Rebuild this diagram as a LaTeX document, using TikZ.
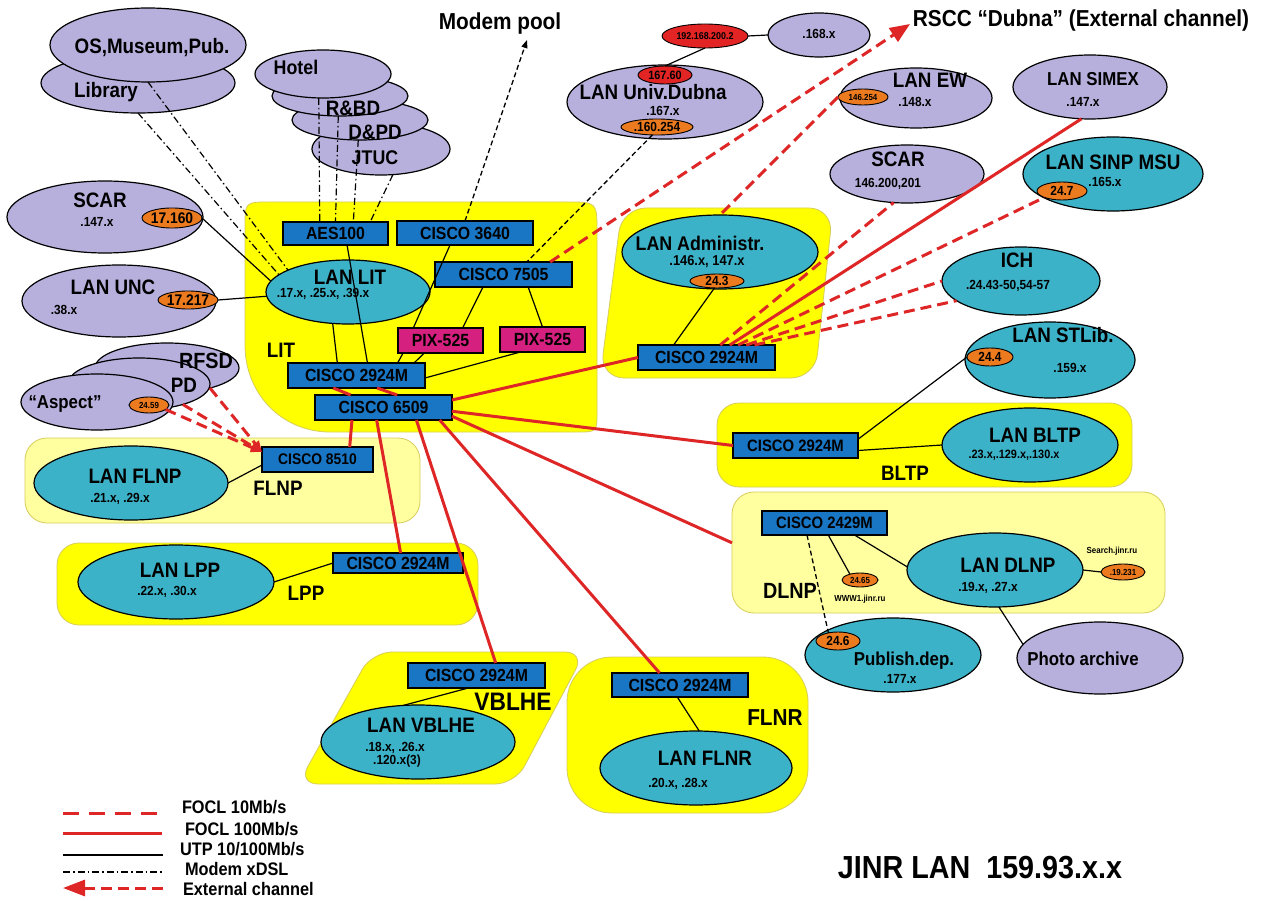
\documentclass[tikz,border=0pt]{standalone}
\usepackage{fontspec}
\setmainfont{Liberation Sans}[FakeStretch=0.9]
\usetikzlibrary{shapes.geometric,arrows.meta,calc}
\definecolor{lav}{RGB}{183,176,220}
\definecolor{tealc}{RGB}{60,178,200}
\definecolor{boxblue}{RGB}{25,118,196}
\definecolor{pixmag}{RGB}{214,32,128}
\definecolor{orng}{RGB}{236,122,30}
\definecolor{redfill}{RGB}{226,36,36}
\definecolor{linered}{RGB}{222,38,38}
\definecolor{yelB}{RGB}{255,255,0}
\definecolor{yelP}{RGB}{255,255,160}
\definecolor{yelEdge}{RGB}{215,205,90}
\newcommand{\fsz}[1]{\fontsize{\fpeval{#1*1.1}}{\fpeval{#1*1.1}}\selectfont\bfseries}
\begin{document}
\begin{tikzpicture}[x=1pt,y=-1pt,
  every node/.style={inner sep=0pt,outer sep=0pt},
  ell/.style={ellipse,draw=black,line width=1.2pt},
  lavE/.style={ell,fill=lav},
  tealE/.style={ell,fill=tealc},
  orE/.style={ell,fill=orng,line width=0.9pt},
  redE/.style={ell,fill=redfill,line width=0.9pt},
  box/.style={rectangle,draw=black,line width=1.2pt,fill=boxblue,font=\fsz{16}},
  pix/.style={box,fill=pixmag},
  region/.style={rectangle,rounded corners=22pt,draw=yelEdge,line width=0.8pt},
  t/.style={anchor=base},
  lg/.style={anchor=base west,font=\fsz{16.5}},
  utp/.style={draw=black,line width=1.2pt},
  f100/.style={draw=linered,line width=3pt},
  f10/.style={draw=linered,line width=3pt,dash pattern=on 11pt off 6pt},
  legdash/.style={draw=linered,line width=3pt,dash pattern=on 16pt off 10pt},
  mdsl/.style={draw=black,line width=1.2pt,dash pattern=on 7pt off 3pt on 1.5pt off 3pt},
  bdash/.style={draw=black,line width=1.3pt,dash pattern=on 5pt off 3pt}]
\useasboundingbox[fill=white] (0,0) rectangle (1272,901);

% ---------- yellow regions ----------
\path[fill=yelB,draw=yelEdge,line width=0.8pt] (270,202) -- (567,202) .. controls (597,202) .. (597,232) -- (597,412) .. controls (597,432) .. (577,432) -- (330,432) .. controls (283,432) and (245,395) .. (245,345) -- (245,227) .. controls (245,202) .. (270,202) -- cycle;
\path[fill=yelB,draw=yelEdge,line width=0.8pt,rounded corners=24pt] (622,208) -- (833,208) -- (815,378) -- (600,378) -- cycle;
\path[fill=yelB,draw=yelEdge,line width=0.8pt,rounded corners=20pt] (372,652) -- (585,652) -- (515,784) -- (298,784) -- cycle;
\path[fill=yelB,draw=yelEdge,line width=0.8pt,rounded corners=45pt] (567,657) rectangle (808,813);
\node[region,fill=yelP,minimum width=395pt,minimum height=85pt] (flnpR) at (222.5,480.5) {};
\node[region,fill=yelB,minimum width=421pt,minimum height=82pt] (lppR) at (267.5,584) {};
\node[region,fill=yelB,minimum width=415pt,minimum height=84pt] (bltpR) at (924.5,445) {};
\node[region,fill=yelP,minimum width=433pt,minimum height=121pt] (dlnpR) at (948.5,552.5) {};

% ---------- ellipses ----------
\node[lavE,minimum width=194pt,minimum height=60pt] (lib) at (138,83) {};
\node[lavE,minimum width=196pt,minimum height=74pt] (os) at (148,45) {};
\node[lavE,minimum width=138pt,minimum height=52pt] (jtuc) at (381,149) {};
\node[lavE,minimum width=136pt,minimum height=40pt] (dpd) at (360,120) {};
\node[lavE,minimum width=136pt,minimum height=40pt] (rbd) at (340,96) {};
\node[lavE,minimum width=136pt,minimum height=48pt] (hotel) at (323,74) {};
\node[lavE,minimum width=196pt,minimum height=72pt] (scarL) at (105,217) {};
\node[lavE,minimum width=194pt,minimum height=72pt] (unc) at (119,301) {};
\node[lavE,minimum width=144pt,minimum height=50pt] (rfsd) at (167,368) {};
\node[lavE,minimum width=142pt,minimum height=52pt] (pd) at (139,384) {};
\node[lavE,minimum width=152pt,minimum height=56pt] (aspect) at (97,402) {};
\node[lavE,minimum width=196pt,minimum height=74pt] (univ) at (665,102) {};
\node[lavE,minimum width=102pt,minimum height=44pt] (d168) at (819,35) {};
\node[lavE,minimum width=152pt,minimum height=60pt] (ew) at (916,98) {};
\node[lavE,minimum width=154pt,minimum height=64pt] (simex) at (1090,87) {};
\node[lavE,minimum width=154pt,minimum height=58pt] (scarR) at (907,174) {};
\node[lavE,minimum width=166pt,minimum height=72pt] (photo) at (1100,658) {};
\node[tealE,minimum width=164pt,minimum height=64pt] (lit) at (348,292) {};
\node[tealE,minimum width=180pt,minimum height=74pt] (sinp) at (1113,174) {};
\node[tealE,minimum width=158pt,minimum height=68pt] (ich) at (1021,281) {};
\node[tealE,minimum width=196pt,minimum height=74pt] (admin) at (720,252) {};
\node[tealE,minimum width=170pt,minimum height=76pt] (stlib) at (1050,360) {};
\node[tealE,minimum width=176pt,minimum height=74pt] (bltp) at (1030,445) {};
\node[tealE,minimum width=176pt,minimum height=74pt] (dlnp) at (995,570) {};
\node[tealE,minimum width=176pt,minimum height=74pt] (publ) at (893,655) {};
\node[tealE,minimum width=194pt,minimum height=74pt] (flnp) at (131,483) {};
\node[tealE,minimum width=196pt,minimum height=74pt] (lpp) at (176,582) {};
\node[tealE,minimum width=194pt,minimum height=74pt] (vbl) at (418,742) {};
\node[tealE,minimum width=192pt,minimum height=74pt] (flnr) at (696,768) {};

% small address ellipses
\node[orE,minimum width=58pt,minimum height=20pt,font=\fsz{14}] (sc17) at (172,218) {17.160};
\node[orE,minimum width=58pt,minimum height=18pt,font=\fsz{14}] (unc17) at (188,300) {17.217};
\node[orE,minimum width=40pt,minimum height=16pt,font=\fsz{8}] (a2459) at (149,405) {24.59};
\node[redE,minimum width=54pt,minimum height=18pt,font=\fsz{11}] (u167) at (665,75) {167.60};
\node[orE,minimum width=72pt,minimum height=16pt,font=\fsz{12}] (u160) at (657,127) {.160.254};
\node[redE,minimum width=86pt,minimum height=24pt,font=\fsz{9}] (r192) at (705,36) {192.168.200.2};
\node[orE,minimum width=50pt,minimum height=16pt,font=\fsz{8}] (ew146) at (863,97) {146.254};
\node[orE,minimum width=50pt,minimum height=18pt,font=\fsz{12}] (s247) at (1062,191) {24.7};
\node[orE,minimum width=54pt,minimum height=14pt,font=\fsz{12}] (a243) at (717,281) {24.3};
\node[orE,minimum width=46pt,minimum height=18pt,font=\fsz{12}] (st244) at (990,357) {24.4};
\node[orE,minimum width=36pt,minimum height=14pt,font=\fsz{8}] (w2465) at (860,580) {24.65};
\node[orE,minimum width=44pt,minimum height=16pt,font=\fsz{8}] (s19) at (1123,572) {.19.231};
\node[orE,minimum width=44pt,minimum height=18pt,font=\fsz{12}] (p246) at (838,641) {24.6};

% ---------- boxes ----------
\node[box,minimum width=105pt,minimum height=23pt] (aes) at (335.5,233.5) {AES100};
\node[box,minimum width=136pt,minimum height=24pt] (c3640) at (465,233) {CISCO 3640};
\node[box,minimum width=137pt,minimum height=25pt] (c7505) at (503.5,274.5) {CISCO 7505};
\node[pix,minimum width=85pt,minimum height=25pt] (pixL) at (440.5,340.5) {PIX-525};
\node[pix,minimum width=85pt,minimum height=25pt] (pixR) at (542.5,339.5) {PIX-525};
\node[box,minimum width=137pt,minimum height=25pt] (c2924lit) at (356.5,375.5) {CISCO 2924M};
\node[box,minimum width=137pt,minimum height=25pt] (c6509) at (383.5,407.5) {CISCO 6509};
\node[box,minimum width=137pt,minimum height=25pt] (cadm) at (706.5,357.5) {CISCO 2924M};
\node[box,minimum width=111pt,minimum height=25pt,font=\fsz{14}] (c8510) at (317.5,459.5) {CISCO 8510};
\node[box,minimum width=130pt,minimum height=20pt] (clpp) at (398,563) {CISCO 2924M};
\node[box,minimum width=125pt,minimum height=25pt,font=\fsz{15}] (cbltp) at (795.5,445.5) {CISCO 2924M};
\node[box,minimum width=125pt,minimum height=24pt,font=\fsz{15}] (c2429) at (824.5,523) {CISCO 2429M};
\node[box,minimum width=137pt,minimum height=25pt] (cvbl) at (476.5,675.5) {CISCO 2924M};
\node[box,minimum width=136pt,minimum height=24pt] (cflnr) at (680,685) {CISCO 2924M};

% ---------- top labels ----------
\node[t,font=\fsz{21}] (modem) at (500,30) {Modem pool};
\node[t,font=\fsz{21}] (rscc) at (1081,27) {RSCC “Dubna” (External channel)};
\coordinate (mpTip) at (527,40);
\coordinate (rsccTip) at (910,24);

% ---------- connectors ----------
% modem xDSL
\draw[mdsl] (os.south) -- (lit.160);
\draw[mdsl] (lib.south) -- (lit.166);
\draw[mdsl] (hotel.-100) -- ($(aes.north west)!0.35!(aes.north east)$);
\draw[mdsl] (rbd.-95) -- ($(aes.north west)!0.5!(aes.north east)$);
\draw[mdsl] (dpd.-95) -- ($(aes.north west)!0.67!(aes.north east)$);
\draw[mdsl] (jtuc.-65) -- ($(aes.north west)!0.83!(aes.north east)$);
% UTP to LAN LIT
\draw[utp] (sc17.east) -- (lit.172);
\draw[utp] (unc17.east) -- (lit.183);
% LIT internal
\draw[utp] (lit.-116) -- ($(c2924lit.north west)!0.36!(c2924lit.north east)$);
\draw[utp] ($(aes.south west)!0.61!(aes.south east)$) -- ($(c2924lit.north west)!0.58!(c2924lit.north east)$);
\draw[utp] ($(c3640.south west)!0.39!(c3640.south east)$) -- ($(pixL.north west)!0.18!(pixL.north east)$);
\draw[utp] ($(pixL.south west)!0.06!(pixL.south east)$) -- ($(c2924lit.north west)!0.8!(c2924lit.north east)$);
\draw[utp] ($(pixL.south west)!0.31!(pixL.south east)$) -- ($(c2924lit.north west)!0.92!(c2924lit.north east)$);
\draw[utp] ($(c7505.south west)!0.35!(c7505.south east)$) -- ($(pixL.north west)!0.76!(pixL.north east)$);
\draw[utp] ($(c7505.south west)!0.68!(c7505.south east)$) -- ($(pixR.north west)!0.5!(pixR.north east)$);
\draw[utp] ($(pixR.south west)!0.24!(pixR.south east)$) -- ($(c2924lit.north east)!0.6!(c2924lit.south east)$);
\draw[f100] ($(c2924lit.south west)!0.33!(c2924lit.south east)$) -- ($(c6509.north west)!0.26!(c6509.north east)$);
\draw[f100] ($(c2924lit.south west)!0.65!(c2924lit.south east)$) -- ($(c6509.north west)!0.6!(c6509.north east)$);
% modem pool, univ
\draw[bdash,-{Triangle[length=8pt,width=6pt]}] (c3640.north) -- (mpTip);
\draw[bdash] (u160.-120) -- ($(c7505.north west)!0.67!(c7505.north east)$);
\draw[utp] (u167.north) -- (r192.south);
\draw[utp] (r192.east) -- (d168.west);
% external channel
\draw[f10,-{Triangle[length=20pt,width=16pt]}] ($(c7505.north west)!0.84!(c7505.north east)$) -- (rsccTip);
\draw[f10] (ew146.west) -- (admin.north);
% administration
\draw[utp] (a243.-110) -- ($(cadm.north west)!0.26!(cadm.north east)$);
\draw[f100] ($(c6509.north east)!0.2!(c6509.south east)$) -- (cadm.west);
\draw[f10] ($(cadm.north west)!0.6!(cadm.north east)$) -- (scarR.-115);
\draw[f100] ($(cadm.north west)!0.67!(cadm.north east)$) -- (simex.-105);
\draw[f10] ($(cadm.north west)!0.73!(cadm.north east)$) -- (s247.200);
\draw[f10] ($(cadm.north west)!0.79!(cadm.north east)$) -- (ich.west);
\draw[f10] ($(cadm.north west)!0.85!(cadm.north east)$) -- (ich.197);
% BLTP
\draw[f100] ($(c6509.north east)!0.65!(c6509.south east)$) -- (cbltp.west);
\draw[utp] ($(cbltp.north east)!0.7!(cbltp.south east)$) -- (bltp.west);
\draw[utp] ($(cbltp.north east)!0.25!(cbltp.south east)$) -- (st244.west);
% DLNP
\draw[f100] ($(c6509.north east)!0.85!(c6509.south east)$) -- ($(dlnpR.north west)!0.42!(dlnpR.south west)$);
\draw[utp] ($(c2429.south west)!0.74!(c2429.south east)$) -- (dlnp.178);
\draw[utp] ($(c2429.south west)!0.53!(c2429.south east)$) -- (w2465.150);
\draw[bdash] ($(c2429.south west)!0.36!(c2429.south east)$) -- (p246.140);
\draw[utp] (dlnp.east) -- (s19.west);
\draw[utp] (dlnp.-84) -- (photo.170);
% LPP, FLNP
\draw[f100] ($(c6509.south west)!0.45!(c6509.south east)$) -- ($(clpp.north west)!0.52!(clpp.north east)$);
\draw[utp] (clpp.west) -- (lpp.east);
\draw[f100] ($(c6509.south west)!0.27!(c6509.south east)$) -- ($(c8510.north west)!0.79!(c8510.north east)$);
\draw[utp] ($(c8510.north west)!0.72!(c8510.south west)$) -- (flnp.east);
\draw[f10,-{Triangle[length=11pt,width=9pt]}] (a2459.-15) -- ($(c8510.north west)!0.2!(c8510.south west)$);
\draw[f10,-{Triangle[length=11pt,width=9pt]}] (pd.-25) -- ($(c8510.north west)!0.2!(c8510.south west)$);
\draw[f10,-{Triangle[length=11pt,width=9pt]}] (rfsd.-25) -- ($(c8510.north west)!0.2!(c8510.south west)$);
% VBLHE, FLNR
\draw[f100] ($(c6509.south west)!0.74!(c6509.south east)$) -- ($(cvbl.north west)!0.64!(cvbl.north east)$);
\draw[utp] ($(cvbl.south west)!0.44!(cvbl.south east)$) -- (vbl.112);
\draw[f100] ($(c6509.south west)!0.91!(c6509.south east)$) -- ($(cflnr.north west)!0.35!(cflnr.north east)$);
\draw[utp] ($(cflnr.south west)!0.48!(cflnr.south east)$) -- (flnr.85);

% ---------- text labels ----------
\node[t,font=\fsz{19}] (tos) at (152,54) {OS,Museum,Pub.};
\node[t,font=\fsz{19}] (tlib) at (106,98) {Library};
\node[t,font=\fsz{18}] (thotel) at (296,75) {Hotel};
\node[t,font=\fsz{19}] (trbd) at (353,116) {R\&BD};
\node[t,font=\fsz{19}] (tdpd) at (375,140) {D\&PD};
\node[t,font=\fsz{18}] (tjtuc) at (375,165) {JTUC};
\node[t,font=\fsz{12}] (t168) at (819,39) {.168.x};
\node[t,font=\fsz{19}] (tuniv) at (653,100) {LAN Univ.Dubna};
\node[t,font=\fsz{12}] (t167) at (663,116) {.167.x};
\node[t,font=\fsz{19}] (tew) at (930,88) {LAN EW};
\node[t,font=\fsz{12}] (t148) at (915,107) {.148.x};
\node[t,font=\fsz{17}] (tsimex) at (1093,86) {LAN SIMEX};
\node[t,font=\fsz{12}] (t147s) at (1083,107) {.147.x};
\node[t,font=\fsz{19}] (tscarR) at (898,167) {SCAR};
\node[t,font=\fsz{12}] (t146) at (888,188) {146.200,201};
\node[t,font=\fsz{19}] (tsinp) at (1113,170) {LAN SINP MSU};
\node[t,font=\fsz{12}] (t165) at (1105,187) {.165.x};
\node[t,font=\fsz{19}] (tich) at (1017,268) {ICH};
\node[t,font=\fsz{12}] (tich2) at (1008,290) {.24.43-50,54-57};
\node[t,font=\fsz{18}] (tadmin) at (700,251) {LAN Administr.};
\node[t,font=\fsz{13}] (tadmin2) at (707,266) {.146.x, 147.x};
\node[t,font=\fsz{19}] (tscarL) at (100,208) {SCAR};
\node[t,font=\fsz{12}] (t147L) at (97,227) {.147.x};
\node[t,font=\fsz{19}] (tunc) at (113,295) {LAN UNC};
\node[t,font=\fsz{12}] (t38) at (64,315) {.38.x};
\node[t,font=\fsz{20}] (trfsd) at (206,368) {RFSD};
\node[t,font=\fsz{19}] (tpd) at (184,392) {PD};
\node[t,font=\fsz{17}] (taspect) at (65,408) {“Aspect”};
\node[t,font=\fsz{19}] (tlit) at (350,285) {LAN LIT};
\node[t,font=\fsz{12}] (tlit2) at (323,298) {.17.x, .25.x, .39.x};
\node[t,font=\fsz{19}] (tlitR) at (281,358) {LIT};
\node[t,font=\fsz{19}] (tflnp) at (135,483) {LAN FLNP};
\node[t,font=\fsz{12}] (tflnp2) at (120,502) {.21.x, .29.x};
\node[t,font=\fsz{19}] (tflnpR) at (278,495) {FLNP};
\node[t,font=\fsz{19}] (tlpp) at (180,577) {LAN LPP};
\node[t,font=\fsz{12}] (tlpp2) at (167,595) {.22.x, .30.x};
\node[t,font=\fsz{19}] (tlppR) at (306,600) {LPP};
\node[t,font=\fsz{19}] (tbltp) at (1035,442) {LAN BLTP};
\node[t,font=\fsz{11}] (tbltp2) at (1014,458) {.23.x,.129.x,.130.x};
\node[t,font=\fsz{19}] (tbltpR) at (905,480) {BLTP};
\node[t,font=\fsz{19}] (tstlib) at (1063,343) {LAN STLib.};
\node[t,font=\fsz{12}] (t159) at (1070,373) {.159.x};
\node[t,font=\fsz{19}] (tdlnp) at (1008,572) {LAN DLNP};
\node[t,font=\fsz{12}] (tdlnp2) at (988,591) {.19.x, .27.x};
\node[t,font=\fsz{20}] (tdlnpR) at (790,598) {DLNP};
\node[t,font=\fsz{8}] (twww) at (860,601) {WWW1.jinr.ru};
\node[t,font=\fsz{8}] (tsearch) at (1112,553) {Search.jinr.ru};
\node[t,font=\fsz{17}] (tpubl) at (904,665) {Publish.dep.};
\node[t,font=\fsz{12}] (t177) at (900,683) {.177.x};
\node[t,font=\fsz{17}] (tphoto) at (1083,665) {Photo archive};
\node[t,font=\fsz{19}] (tvbl) at (421,732) {LAN VBLHE};
\node[t,font=\fsz{12}] (tvbl2) at (395,751) {.18.x, .26.x};
\node[t,font=\fsz{12}] (tvbl3) at (397,764) {.120.x(3)};
\node[t,font=\fsz{23}] (tvblR) at (513,710) {VBLHE};
\node[t,font=\fsz{19}] (tflnr) at (705,765) {LAN FLNR};
\node[t,font=\fsz{12}] (tflnr2) at (678,787) {.20.x, .28.x};
\node[t,font=\fsz{21}] (tflnrR) at (775,725) {FLNR};

% ---------- legend ----------
\coordinate (l1a) at (63,813); \coordinate (l1b) at (162,813);
\coordinate (l2a) at (63,833); \coordinate (l2b) at (162,833);
\coordinate (l3a) at (63,855); \coordinate (l3b) at (163,855);
\coordinate (l4a) at (63,872); \coordinate (l4b) at (163,872);
\coordinate (l5a) at (63,888); \coordinate (l5b) at (163,888);
\draw[legdash] (l1a) -- (l1b);
\draw[f100] (l2a) -- (l2b);
\draw[utp] (l3a) -- (l3b);
\draw[mdsl] (l4a) -- (l4b);
\draw[f10,-{Triangle[length=22pt,width=16pt]}] (l5b) -- (l5a);
\node[lg] (lt1) at (182,813) {FOCL 10Mb/s};
\node[lg] (lt2) at (185,835) {FOCL 100Mb/s};
\node[lg] (lt3) at (180,855) {UTP 10/100Mb/s};
\node[lg] (lt4) at (185,875) {Modem xDSL};
\node[lg] (lt5) at (183,895) {External channel};
\node[t,font=\fsz{29}] (jinr) at (980,878) {JINR LAN\ \ 159.93.x.x};
\end{tikzpicture}
\end{document}
